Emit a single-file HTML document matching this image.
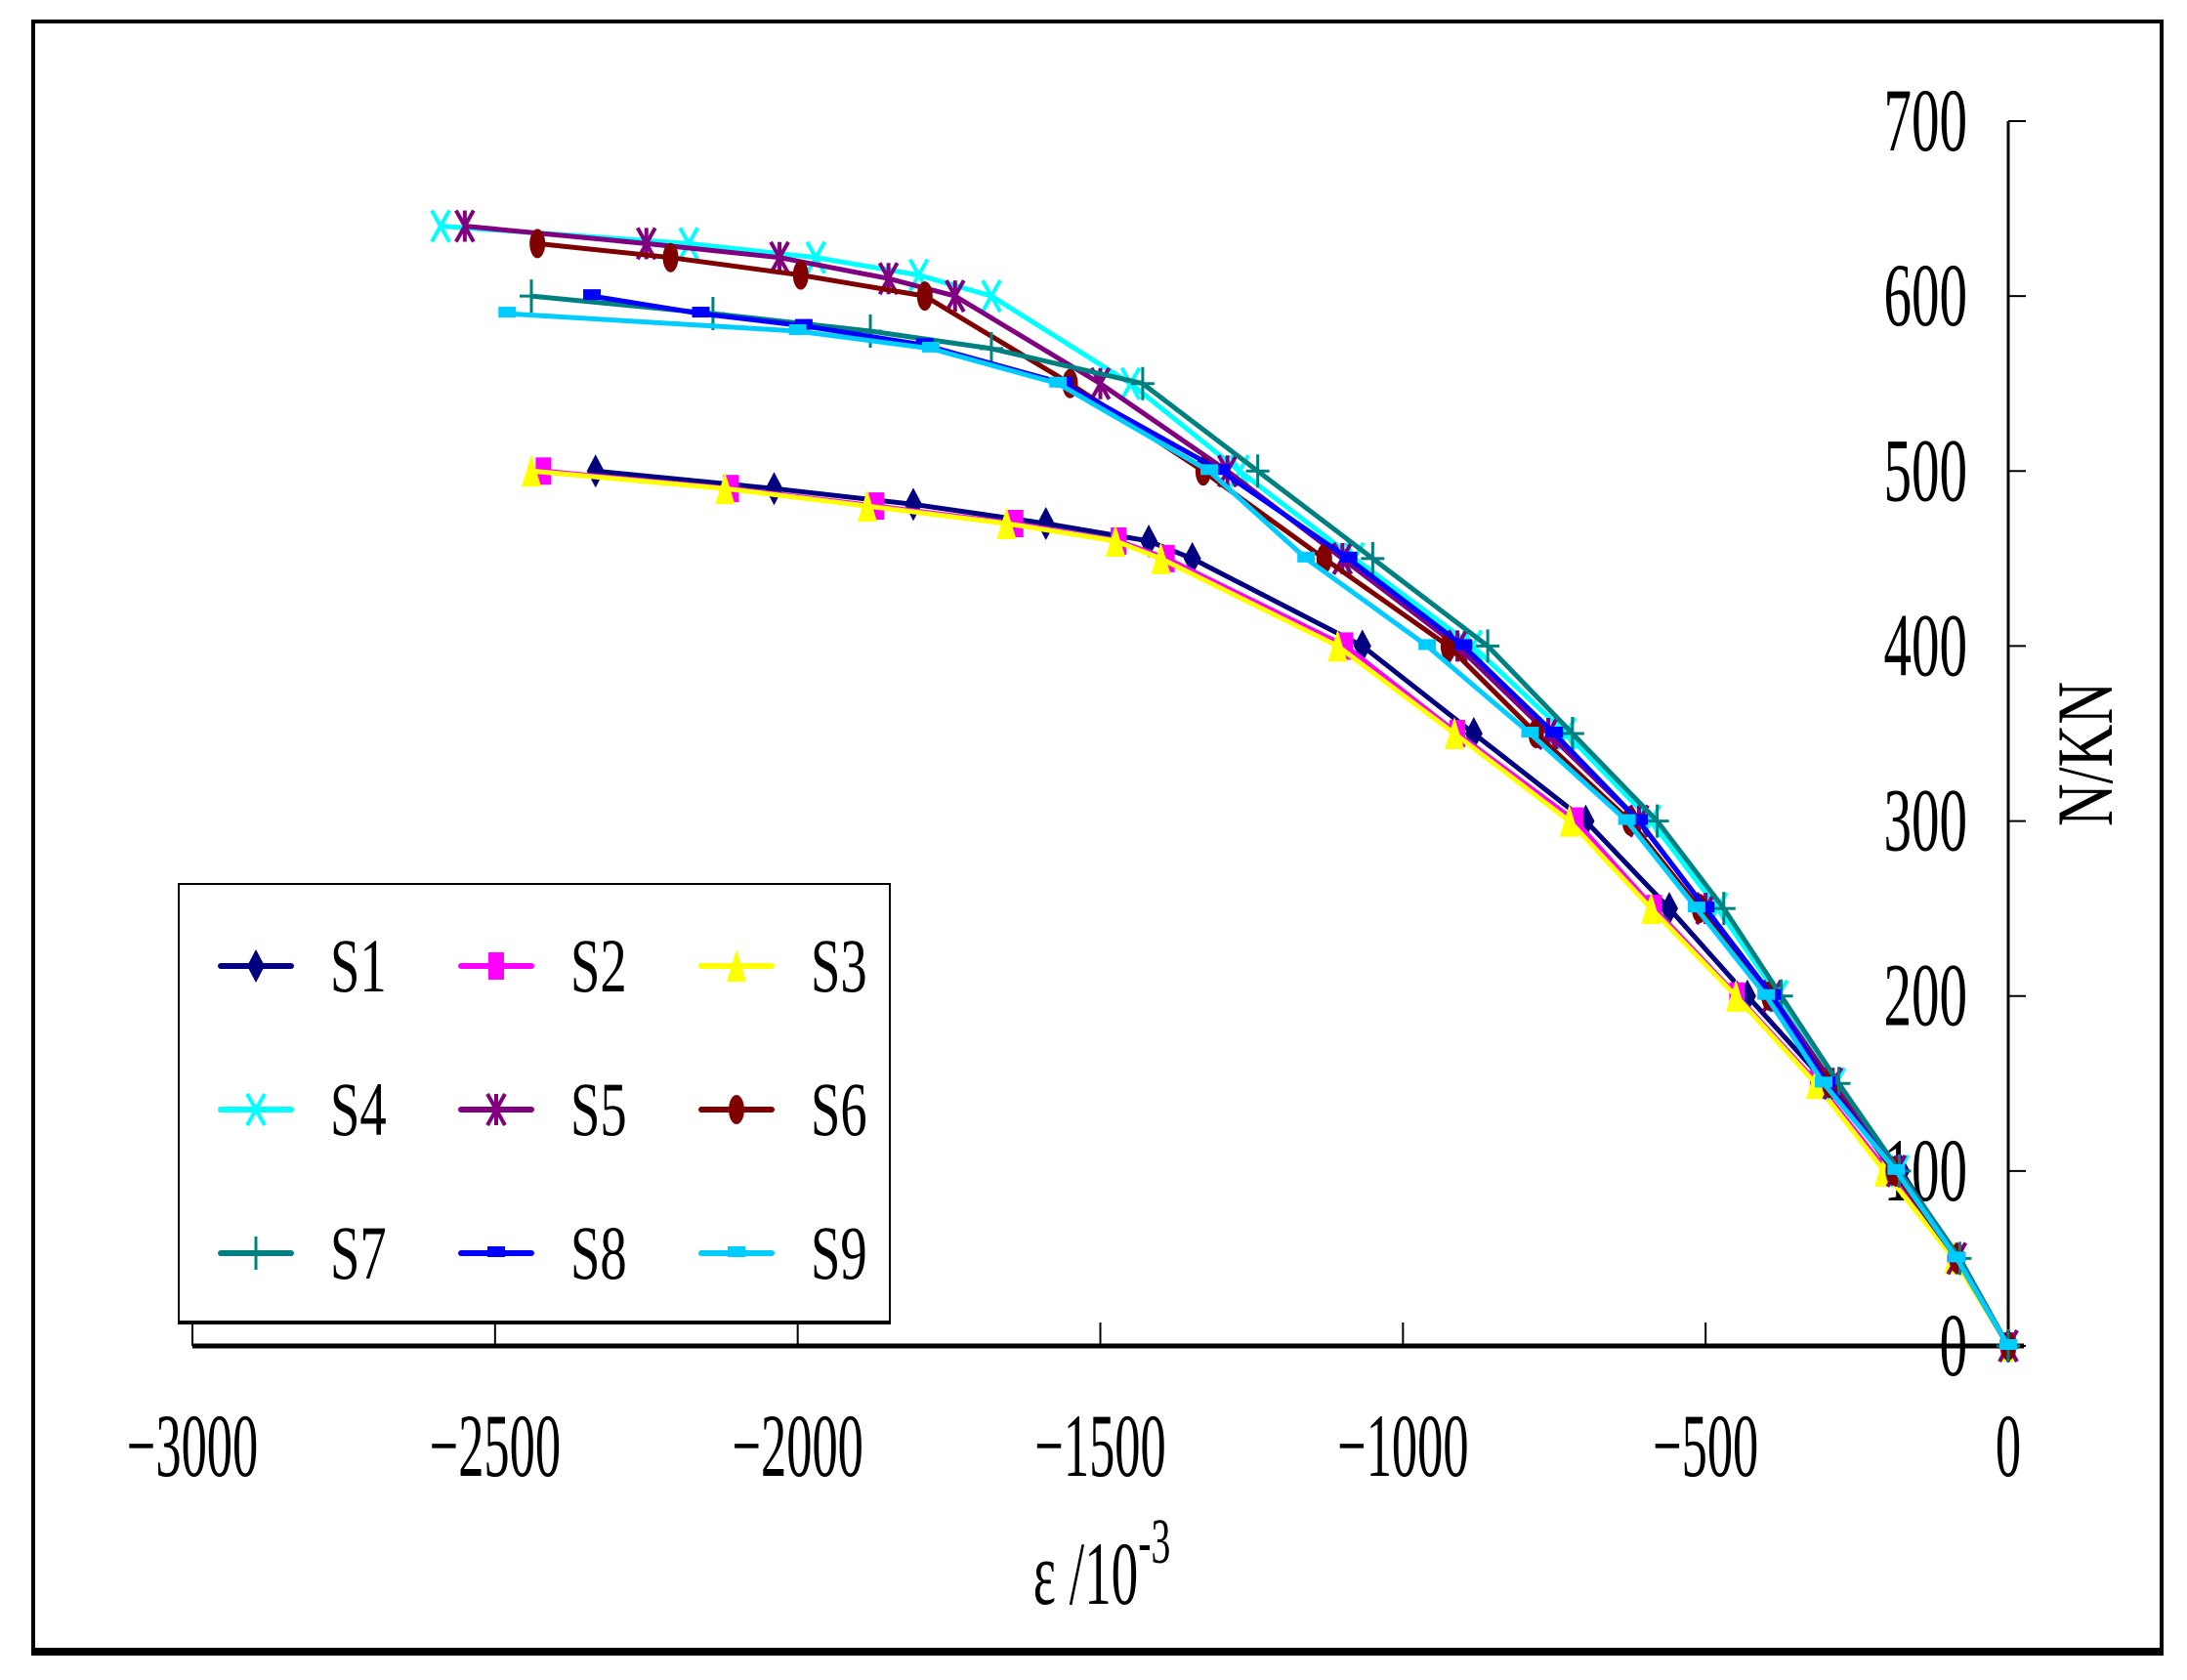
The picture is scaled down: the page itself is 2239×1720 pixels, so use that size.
<!DOCTYPE html>
<html><head><meta charset="utf-8"><style>
html,body{margin:0;padding:0;background:#fff;}
svg{display:block;}
text{font-family:"Liberation Serif",serif;fill:#000;}
</style></head><body>
<svg id="chart" width="2239" height="1720" viewBox="0 0 2239 1720" xmlns="http://www.w3.org/2000/svg">
<rect x="34" y="22" width="2179" height="1669" fill="#fff" stroke="#000" stroke-width="4"/>
<line x1="32" y1="1691" x2="2215" y2="1691" stroke="#000" stroke-width="8"/>
<g id="axes"></g>
<g id="series"></g>
<g id="legend"></g>
</svg>
<script>
const xTicks = [-3000,-2500,-2000,-1500,-1000,-500,0];
const yTicks = [0,100,200,300,400,500,600,700];
const seriesNames = ["S1","S2","S3","S4","S5","S6","S7","S8","S9"];
const loadS1 = [0,50,100,150,200,250,300,350,400,450,460,470,481,490,500];
const strainS1 = [0,-85,-177,-300,-431,-560,-698,-883,-1067,-1348,-1420,-1590,-1809,-2039,-2334];
const loadS2 = [0,50,100,150,200,250,300,350,400,450,460,470,480,490,500];
const strainS2 = [0,-88,-200,-315,-448,-585,-715,-910,-1095,-1390,-1470,-1640,-1870,-2110,-2420];
const loadS3 = [0,50,100,150,200,250,300,350,400,450,460,470,480,490,500];
const strainS3 = [0,-90,-205,-318,-450,-590,-725,-915,-1108,-1400,-1475,-1655,-1885,-2120,-2440];
const loadS4 = [0,50,100,150,200,250,300,350,400,450,500,550,600,612,622,630,640];
const strainS4 = [0,-85,-180,-285,-380,-480,-590,-730,-885,-1080,-1270,-1450,-1680,-1800,-1970,-2180,-2590];
const loadS5 = [0,50,100,150,200,250,300,350,400,450,500,550,600,610,622,630,640];
const strainS5 = [0,-85,-185,-290,-390,-500,-610,-760,-910,-1100,-1290,-1500,-1740,-1850,-2030,-2250,-2550];
const loadS6 = [0,50,100,150,200,250,300,350,400,450,500,550,600,612,622,630];
const strainS6 = [0,-85,-190,-295,-395,-510,-625,-780,-925,-1130,-1330,-1550,-1790,-1995,-2210,-2430];
const loadS7 = [0,50,100,150,200,250,300,350,400,450,500,550,570,580,590,600];
const strainS7 = [0,-80,-180,-280,-375,-470,-580,-720,-860,-1050,-1240,-1430,-1680,-1880,-2140,-2440];
const loadS8 = [0,50,100,150,200,250,300,350,400,450,500,550,572,583,590,600];
const strainS8 = [0,-85,-185,-300,-390,-500,-610,-750,-900,-1090,-1300,-1560,-1790,-1990,-2160,-2340];
const loadS9 = [0,50,100,150,200,250,300,350,400,450,500,550,570,580,590];
const strainS9 = [0,-85,-185,-305,-400,-515,-630,-790,-960,-1160,-1320,-1570,-1780,-2000,-2480];

const NS="http://www.w3.org/2000/svg";
const X0=197,X1=2056,Y0=1378,Y1=124;
function xs(v){return X0+(v+3000)/3000*(X1-X0);}
function ys(v){return Y0-v/700*(Y0-Y1);}
function mk(tag,attrs,parent){const e=document.createElementNS(NS,tag);for(const k in attrs)e.setAttribute(k,attrs[k]);parent.appendChild(e);return e;}
const axes=document.getElementById('axes');
let e;
e=mk('line',{x1:X0,y1:Y0,x2:X1+16,y2:Y0,stroke:'#000','stroke-width':5},axes);


e=mk('line',{x1:X1,y1:Y1,x2:X1,y2:Y0,stroke:'#000','stroke-width':3},axes);


xTicks.forEach(t=>{
  const x=xs(t);
  let l=mk('line',{x1:x,y1:Y0,x2:x,y2:Y0-24,stroke:'#000','stroke-width':2},axes);
  
  
  let tx=mk('text',{x:0,y:0,'font-size':92,'text-anchor':'middle',transform:`translate(${x},1511) scale(0.57,1)`},axes);
  tx.textContent=String(t).replace('-','\u2212');
  
  
});
yTicks.forEach(t=>{
  const y=ys(t);
  let l=mk('line',{x1:X1,y1:y,x2:X1+18,y2:y,stroke:'#000','stroke-width':2},axes);
  
  
  let tx=mk('text',{x:0,y:0,'font-size':92,'text-anchor':'end',transform:`translate(2014,${y+30}) scale(0.62,1)`},axes);
  tx.textContent=String(t);
  
  
});
e=mk('text',{x:0,y:0,'font-size':92,'text-anchor':'middle',transform:'translate(1128,1642) scale(0.6,1)'},axes);
e.innerHTML='ε /10<tspan dy="-42" font-size="66">-3</tspan>';


e=mk('text',{x:0,y:0,'font-size':82,'text-anchor':'middle',transform:'translate(2162,772) rotate(-90) scale(0.74,1)'},axes);
e.textContent='N/KN';



const colors=["#000080","#ff00ff","#ffff00","#00ffff","#800080","#800000","#008080","#0000ff","#00ccff"];
const markers=["diamond","square","triangle","x","star","circle","plus","dash","dash"];
const loads=[loadS1,loadS2,loadS3,loadS4,loadS5,loadS6,loadS7,loadS8,loadS9];
const strains=[strainS1,strainS2,strainS3,strainS4,strainS5,strainS6,strainS7,strainS8,strainS9];
function marker(type,x,y,c,parent){
  const g=mk('g',{},parent);
  if(type==='diamond')mk('polygon',{points:`${x},${y-17} ${x+9},${y} ${x},${y+17} ${x-9},${y}`,fill:c},g);
  else if(type==='square')mk('rect',{x:x-8,y:y-14,width:16,height:28,fill:c},g);
  else if(type==='triangle')mk('polygon',{points:`${x},${y-17} ${x+10},${y+16} ${x-10},${y+16}`,fill:c},g);
  else if(type==='circle')mk('ellipse',{cx:x,cy:y,rx:8,ry:15,fill:c},g);
  else if(type==='x'){mk('path',{d:`M${x-9},${y-16}L${x+9},${y+16}M${x+9},${y-16}L${x-9},${y+16}`,stroke:c,'stroke-width':4},g);}
  else if(type==='star'){mk('path',{d:`M${x-9},${y-16}L${x+9},${y+16}M${x+9},${y-16}L${x-9},${y+16}M${x},${y-16}L${x},${y+16}`,stroke:c,'stroke-width':4},g);}
  else if(type==='plus'){mk('path',{d:`M${x},${y-17}L${x},${y+17}M${x-12},${y}L${x+12},${y}`,stroke:c,'stroke-width':3},g);}
  else if(type==='dash')mk('rect',{x:x-9,y:y-7,width:18,height:11,fill:c},g);
  return g;
}
const sg=document.getElementById('series');
loads.forEach((ld,i)=>{
  const st=strains[i];
  const pts=ld.map((v,j)=>`${xs(st[j]).toFixed(1)},${ys(v).toFixed(1)}`).join(' ');
  const g=mk('g',{},sg);
  
  
  const pl=mk('polyline',{points:pts,fill:'none',stroke:colors[i],'stroke-width':5,'stroke-linejoin':'round'},g);
  
  
  ld.forEach((v,j)=>{
    const m=marker(markers[i],xs(st[j]),ys(v),colors[i],g);
    
    
  });
});
const lg=document.getElementById('legend');
e=mk('rect',{x:183,y:905,width:728,height:449,fill:'#fff',stroke:'#000','stroke-width':2},lg);


e=mk('line',{x1:182,y1:1354,x2:912,y2:1354,stroke:'#000','stroke-width':4},lg);


const colX=[226,472,718],rowY=[989,1136,1283];
seriesNames.forEach((n,i)=>{
  const cx=colX[i%3],cy=rowY[Math.floor(i/3)];
  const g=mk('g',{},lg);
  
  
  mk('line',{x1:cx,y1:cy,x2:cx+72,y2:cy,stroke:colors[i],'stroke-width':6,'stroke-linecap':'round'},g);
  marker(markers[i],cx+36,cy,colors[i],g);
  const t=mk('text',{x:0,y:0,'font-size':78,transform:`translate(${cx+112},${cy+26}) scale(0.7,1)`},g);
  t.textContent=n;
});
</script>
</body></html>
